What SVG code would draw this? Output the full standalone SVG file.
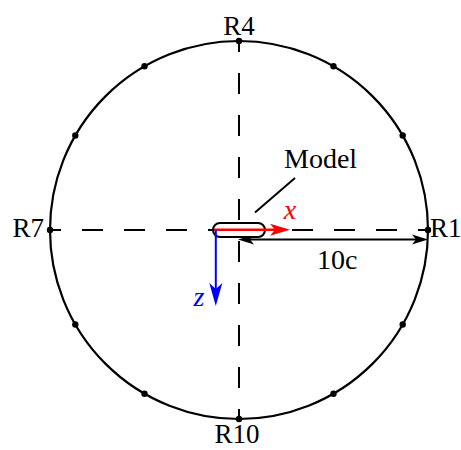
<svg xmlns="http://www.w3.org/2000/svg" width="461" height="450" viewBox="0 0 461 450">
<style>
text{font-family:"Liberation Serif","Times New Roman",serif;fill:#000}
.lbl{font-size:27px}
.axis{stroke:#000;stroke-width:2;stroke-dasharray:21 21;fill:none}
.dot{fill:#000}
.ital{font-style:italic;font-size:28px}
</style>
<defs>
<marker id="ahK" markerUnits="userSpaceOnUse" viewBox="-5 -6 18 12" markerWidth="18" markerHeight="12" refX="0" refY="0" orient="auto-start-reverse" overflow="visible">
<path d="M12,0 L-4,-5 L0,0 L-4,5 Z" fill="#000"/>
</marker>
<marker id="ahR" markerUnits="userSpaceOnUse" viewBox="-6 -7 22 14" markerWidth="22" markerHeight="14" refX="0" refY="0" orient="auto" overflow="visible">
<path d="M15,0 L-5,-6 L0,0 L-5,6 Z" fill="#ff0000"/>
</marker>
<marker id="ahB" markerUnits="userSpaceOnUse" viewBox="-7 -7 25 14" markerWidth="25" markerHeight="14" refX="0" refY="0" orient="auto" overflow="visible">
<path d="M17,0 L-6,-6.5 L0,0 L-6,6.5 Z" fill="#0000ff"/>
</marker>
</defs>
<g id="axes">
<line class="axis" x1="50" y1="230" x2="428" y2="230" stroke-dashoffset="10"/>
<line class="axis" x1="239" y1="41" x2="239" y2="419" stroke-dashoffset="10"/>
</g>
<g id="circle">
<circle cx="239" cy="230" r="189" fill="none" stroke="#000" stroke-width="2.2"/>
<circle class="dot" cx="428" cy="230" r="3.2"/>
<circle class="dot" cx="402.7" cy="135.5" r="3.2"/>
<circle class="dot" cx="333.5" cy="66.3" r="3.2"/>
<circle class="dot" cx="239" cy="41" r="3.2"/>
<circle class="dot" cx="144.5" cy="66.3" r="3.2"/>
<circle class="dot" cx="75.3" cy="135.5" r="3.2"/>
<circle class="dot" cx="50" cy="230" r="3.2"/>
<circle class="dot" cx="75.3" cy="324.5" r="3.2"/>
<circle class="dot" cx="144.5" cy="393.7" r="3.2"/>
<circle class="dot" cx="239" cy="419" r="3.2"/>
<circle class="dot" cx="333.5" cy="393.7" r="3.2"/>
<circle class="dot" cx="402.7" cy="324.5" r="3.2"/>
</g>
<g id="labels">
<text class="lbl" x="239" y="35" text-anchor="middle">R4</text>
<text class="lbl" x="44" y="237" text-anchor="end">R7</text>
<text class="lbl" x="430" y="237">R1</text>
<text class="lbl" x="237" y="443" text-anchor="middle">R10</text>
</g>
<g id="connectors">
<line x1="250" y1="239.5" x2="416" y2="239.5" stroke="#000" stroke-width="2" marker-start="url(#ahK)" marker-end="url(#ahK)"/>
<line x1="255" y1="212.5" x2="295" y2="178" stroke="#000" stroke-width="2"/>
</g>
<g id="model">
<rect x="213" y="223" width="52" height="14" rx="7" ry="7" fill="#fff" stroke="#000" stroke-width="2"/>
<text x="284" y="168" style="font-size:28px">Model</text>
</g>
<g id="x-axis">
<line x1="214" y1="229.7" x2="275" y2="229.7" stroke="#ff0000" stroke-width="2.5" marker-end="url(#ahR)"/>
<text class="ital" x="290" y="219" text-anchor="middle" style="fill:#ff0000">x</text>
</g>
<g id="z-axis">
<line x1="215.8" y1="230" x2="215.8" y2="289" stroke="#0000ff" stroke-width="2" marker-end="url(#ahB)"/>
<text class="ital" x="199" y="306" text-anchor="middle" style="fill:#0000ff">z</text>
</g>
<g id="dimension">
<text x="317" y="269" style="font-size:28px">10c</text>
</g>
</svg>
